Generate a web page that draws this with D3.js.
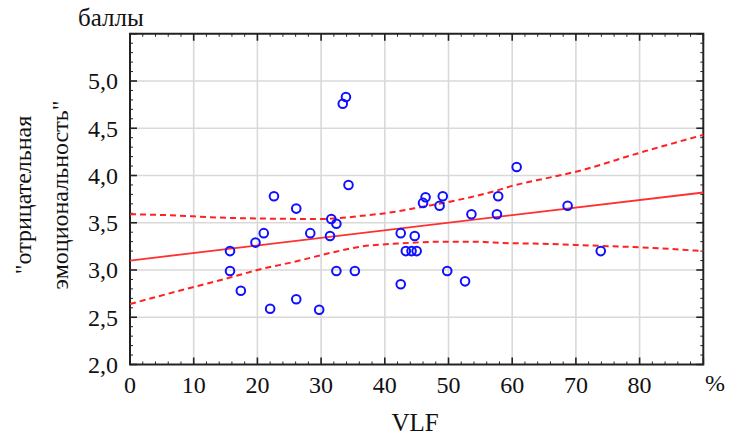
<!DOCTYPE html>
<html>
<head>
<meta charset="utf-8">
<script src="https://cdn.jsdelivr.net/npm/d3@7/dist/d3.min.js"></script>
<style>
  html, body { margin: 0; padding: 0; background: #fff; }
  svg { display: block; }
</style>
</head>
<body>
<svg id="chart" width="735" height="439" font-family="'Liberation Serif', 'DejaVu Serif', serif"></svg>
<script>
// VLF share (%) vs "negative emotionality" score
const vlf = [15.7, 15.7, 17.4, 19.7, 21.0, 22.0, 22.6, 26.1, 26.1, 28.3, 29.7, 31.4, 31.6, 32.4, 32.4,
             33.4, 33.9, 34.3, 35.3, 42.5, 42.5, 43.3, 44.2, 45.0, 44.7, 46.0, 46.4, 48.6, 49.1, 49.8,
             52.6, 53.6, 57.6, 57.8, 60.7, 68.7, 73.9];
const score = [3.20, 2.99, 2.78, 3.29, 3.39, 2.59, 3.78, 3.65, 2.69, 3.39, 2.58, 3.36, 3.54, 3.49, 2.99,
               4.76, 4.83, 3.90, 2.99, 3.39, 2.85, 3.20, 3.20, 3.20, 3.36, 3.71, 3.77, 3.68, 3.78, 2.99,
               2.88, 3.59, 3.59, 3.78, 4.09, 3.68, 3.20];

// fitted line and its confidence band
const fitX = [0, 90];
const fitY = [3.10, 3.82];
const upperX = [0, 6, 14, 20, 30, 33, 36, 42, 46, 50, 57.5, 60, 66, 70, 80, 90];
const upperY = [3.59, 3.58, 3.555, 3.545, 3.54, 3.55, 3.57, 3.62, 3.67, 3.72, 3.84, 3.89, 3.98, 4.04, 4.24, 4.43];
const lowerX = [0, 9.4, 15.7, 20, 26, 31.4, 36.5, 42, 50, 55, 57, 66, 70, 74, 80, 90];
const lowerY = [2.64, 2.81, 2.92, 3.0, 3.09, 3.18, 3.25, 3.28, 3.30, 3.30, 3.29, 3.275, 3.265, 3.255, 3.24, 3.20];

const xTicks = [0, 10, 20, 30, 40, 50, 60, 70, 80];
const yTicks = [2.0, 2.5, 3.0, 3.5, 4.0, 4.5, 5.0];

const svg = d3.select("#chart");
const L = 130, R = 703.3, T = 33.75, B = 364.5;

const x = d3.scaleLinear().domain([0, 90]).range([L, R]);
const y = d3.scaleLinear().domain([2, 5.5]).range([B, T]);

const fmt = v => d3.format(".1f")(v).replace(".", ",");
const isHalf = d => Math.abs(d * 2 - Math.round(d * 2)) < 1e-6;

// grid
const grid = svg.append("g").attr("stroke", "#d9d9d9").attr("stroke-width", 1.6);
grid.selectAll(".gx").data(xTicks.filter(d => d > 0)).join("line")
  .attr("x1", d => x(d)).attr("x2", d => x(d)).attr("y1", T).attr("y2", B);
grid.selectAll(".gy").data(yTicks.filter(d => d > 2)).join("line")
  .attr("x1", L).attr("x2", R).attr("y1", d => y(d)).attr("y2", d => y(d));

// inward ticks on all four sides
const yMinor = d3.range(20, 56).map(d => d / 10);
const xMinor = d3.range(0, 91, 2);
const tk = svg.append("g").attr("stroke", "#222");
tk.selectAll(".yl").data(yMinor).join("line")
  .attr("x1", L).attr("x2", d => L + (isHalf(d) ? 7 : 3))
  .attr("y1", d => y(d)).attr("y2", d => y(d))
  .attr("stroke-width", d => isHalf(d) ? 1.6 : 1);
tk.selectAll(".yr").data(yMinor).join("line")
  .attr("x1", R).attr("x2", d => R - (isHalf(d) ? 7 : 3))
  .attr("y1", d => y(d)).attr("y2", d => y(d))
  .attr("stroke-width", d => isHalf(d) ? 1.6 : 1);
tk.selectAll(".xb").data(xMinor).join("line")
  .attr("y1", B).attr("y2", d => B - (d % 10 === 0 ? 7 : 3))
  .attr("x1", d => x(d)).attr("x2", d => x(d))
  .attr("stroke-width", d => d % 10 === 0 ? 1.6 : 1);
tk.selectAll(".xt").data(xMinor).join("line")
  .attr("y1", T).attr("y2", d => T + (d % 10 === 0 ? 7 : 3))
  .attr("x1", d => x(d)).attr("x2", d => x(d))
  .attr("stroke-width", d => d % 10 === 0 ? 1.6 : 1);

// frame
svg.append("rect").attr("x", L).attr("y", T).attr("width", R - L).attr("height", B - T)
  .attr("fill", "none").attr("stroke", "#222").attr("stroke-width", 2);

// band and fit
const curve = d3.line().x(d => x(d[0])).y(d => y(d[1])).curve(d3.curveMonotoneX);
[[upperX, upperY], [lowerX, lowerY]].forEach(([bx, by]) => {
  svg.append("path").datum(d3.zip(bx, by)).attr("d", curve)
    .attr("fill", "none").attr("stroke", "#ff2020").attr("stroke-width", 2)
    .attr("stroke-dasharray", "6,4");
});
svg.append("path").datum(d3.zip(fitX, fitY))
  .attr("d", d3.line().x(d => x(d[0])).y(d => y(d[1])))
  .attr("fill", "none").attr("stroke", "#ff3030").attr("stroke-width", 1.8);

// points
svg.append("g").selectAll("circle").data(d3.zip(vlf, score)).join("circle")
  .attr("cx", d => x(d[0])).attr("cy", d => y(d[1])).attr("r", 4.3)
  .attr("fill", "none").attr("stroke", "#1010ff").attr("stroke-width", 2);

// tick labels
svg.append("g").selectAll("text").data(yTicks).join("text")
  .attr("x", 118).attr("y", d => y(d)).attr("dy", "0.35em")
  .attr("text-anchor", "end").attr("font-size", 24).attr("fill", "#111").text(fmt);
svg.append("g").selectAll("text").data(xTicks).join("text")
  .attr("x", d => x(d)).attr("y", 393).attr("text-anchor", "middle")
  .attr("font-size", 24).attr("fill", "#111").text(d => d);
svg.append("text").attr("x", 715).attr("y", 391).attr("text-anchor", "middle")
  .attr("font-size", 24).attr("fill", "#111").text("%");

// axis titles
svg.append("text").attr("x", 415).attr("y", 431).attr("text-anchor", "middle")
  .attr("font-size", 25).attr("fill", "#111").text("VLF");
svg.append("text").attr("x", 78).attr("y", 26).attr("font-size", 25).attr("fill", "#111").text("баллы");
const yt = svg.append("text").attr("transform", "translate(0,195) rotate(-90)")
  .attr("text-anchor", "middle").attr("font-size", 24).attr("fill", "#111");
yt.append("tspan").attr("x", 0).attr("y", 31).text("\"отрицательная");
yt.append("tspan").attr("x", 0).attr("y", 68).text("эмоциональность\"");
</script>
</body>
</html>
